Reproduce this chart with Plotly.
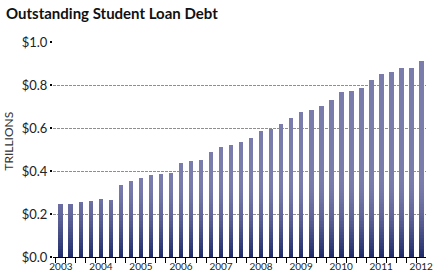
import plotly.graph_objects as go

# ---- data ----
quarters = [f"{y}Q{q}" for y in range(2003, 2013) for q in range(1, 5)][:37]
debt_trillions = [0.246, 0.246, 0.254, 0.261, 0.268, 0.265, 0.334, 0.354, 0.366,
                  0.380, 0.385, 0.393, 0.439, 0.445, 0.451, 0.487, 0.512, 0.520,
                  0.534, 0.554, 0.588, 0.597, 0.617, 0.648, 0.673, 0.685, 0.702,
                  0.731, 0.769, 0.773, 0.788, 0.824, 0.849, 0.859, 0.880, 0.880,
                  0.913]
year_labels = [str(y) for y in range(2003, 2013)]
y_tick_vals = [0.0, 0.2, 0.4, 0.6, 0.8, 1.0]
y_tick_text = ["$0.0", "$0.2", "$0.4", "$0.6", "$0.8", "$1.0"]

# numeric positions derived from quarter labels
xpos = [int(q[:4]) + (int(q[-1]) - 1) * 0.25 for q in quarters]
year_pos = [float(y) for y in year_labels]
boundaries = [x - 0.125 for x in xpos]

BAR_W = 0.12
LIGHT = (0x7a, 0x7c, 0xac)
DARK = (0x1e, 0x2a, 0x69)
GRAD_TOP = 0.36
N = 28


def mix(t):
    t = max(0.0, min(1.0, t))
    t = 1 - (1 - t) ** 1.6
    r = [round(DARK[i] + (LIGHT[i] - DARK[i]) * t) for i in range(3)]
    # alpha just below 1 makes plotly snap bar edges to whole pixels
    return f"rgba({r[0]},{r[1]},{r[2]},0.999)"


fig = go.Figure()
# each bar is split into stacked slices so the fill darkens towards the baseline
levels = [GRAD_TOP * j / N for j in range(N + 1)]
for j in range(1, N + 1):
    lo, hi = levels[j - 1], levels[j]
    seg = [max(0.0, min(v, hi) - lo) for v in debt_trillions]
    fig.add_trace(go.Bar(x=xpos, y=seg, width=BAR_W,
                         marker=dict(color=mix((j - 0.5) / N), line=dict(width=0)),
                         hoverinfo="skip"))
fig.add_trace(go.Bar(x=xpos, y=[max(0.0, v - GRAD_TOP) for v in debt_trillions],
                     width=BAR_W, marker=dict(color=mix(1.0), line=dict(width=0)),
                     hoverinfo="skip"))

fig.update_layout(
    width=440, height=279,
    margin=dict(l=53, r=7, t=42, b=21),
    paper_bgcolor="white", plot_bgcolor="white",
    barmode="stack", showlegend=False,
    font=dict(family="Lato", color="#222"),
    title=dict(text="<b>Outstanding Student Loan Debt</b>",
               font=dict(family="Lato", size=15, color="#111"),
               x=6 / 440, xanchor="left", xref="container",
               y=1 - 14 / 279, yanchor="middle", yref="container"),
    xaxis=dict(range=[2002.803, 2012.12], tickmode="array", tickvals=year_pos,
               ticktext=year_labels, ticks="", showgrid=False, zeroline=False,
               showline=True, linecolor="black", linewidth=1,
               tickfont=dict(size=10, color="#222"),
               minor=dict(tickmode="array", tickvals=boundaries, ticks="outside",
                          ticklen=5, tickwidth=1, tickcolor="black", showgrid=False)),
    yaxis=dict(range=[0, 1.0], tickmode="array", tickvals=y_tick_vals,
               ticktext=y_tick_text, ticks="outside", ticklen=2, tickwidth=2,
               tickcolor="black", showgrid=True, gridcolor="#8f8f8f",
               gridwidth=0.7, griddash="3px,1px", zeroline=False, showline=False,
               tickfont=dict(size=13, color="#222")),
    annotations=[dict(text="TRILLIONS", textangle=-90, xref="paper", yref="paper",
                      x=-45.5 / 380, y=0.538, xanchor="center", yanchor="middle",
                      showarrow=False, font=dict(size=12, color="#333", family="Lato"))],
)

fig.write_html("out.html")
